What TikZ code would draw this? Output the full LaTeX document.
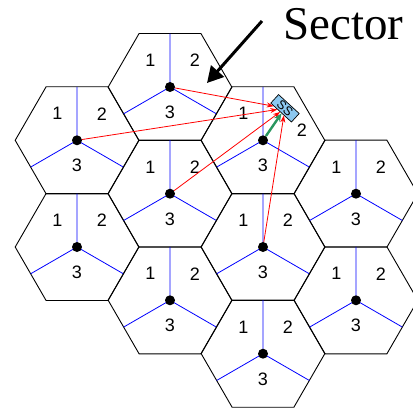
\documentclass[tikz,border=0pt]{standalone}
\usepackage{fontspec}
\setmainfont{Liberation Sans}
\newfontfamily\serifit{Liberation Serif}
\usetikzlibrary{arrows.meta}
\definecolor{ssblue}{RGB}{140,200,240}
\definecolor{sgreen}{RGB}{40,150,95}
\tikzset{
  hexline/.style={draw=black,line width=0.9pt},
  sectorline/.style={draw=blue,line width=0.8pt},
  bs/.style={circle,fill=black,inner sep=0pt,minimum size=10pt},
  num/.style={font=\fontsize{18}{18}\selectfont,inner sep=0pt},
  interf/.style={draw=red,line width=0.8pt,-{Stealth[length=7pt,width=5pt]}},
  serving/.style={draw=sgreen,line width=2.4pt,-{Stealth[length=8pt,width=7pt]}},
  ssbox/.style={draw=black,fill=ssblue,line width=0.7pt,rotate=-42.5,minimum width=28pt,minimum height=11.5pt,inner sep=0pt,font=\fontsize{12.5}{12.5}\selectfont},
  bigarrow/.style={draw=black,line width=3pt,-{Triangle[length=16pt,width=17pt]}}
}
\begin{document}
\begin{tikzpicture}[x=1pt,y=-1pt]
\useasboundingbox (0,0) rectangle (413,410);
\fill[white] (0,0) rectangle (413,410);
\begin{scope}
\clip (0,0) rectangle (413,410);
\def\R{61.8}
\foreach \n/\cx/\cy in {a/77/140.3,b/77/247,c/170/87,d/170/193.7,e/170/300.3,f/263/140.3,g/263/247,h/263/353.7,i/356/193.7,j/356/300.3}{
  \draw[hexline,shift={(\cx,\cy)}] (0:\R) -- (60:\R) -- (120:\R) -- (180:\R) -- (240:\R) -- (300:\R) -- cycle;
  \draw[sectorline,shift={(\cx,\cy)}] (0,0) -- (0,-53.5) (0,0) -- (-46.3,26.75) (0,0) -- (46.3,26.75);
  \node[bs] (\n) at (\cx,\cy) {};
  \node[num] (\n3) at ([shift={(0,25.5)}]\n) {3};
  \node[num] (\n1) at ([shift={(-19.5,-26.5)}]\n) {1};
}
\foreach \n in {a,b,c,d,e,g,h,i,j}{
  \node[num] (\n2) at ([shift={(25,-26.5)}]\n) {2};
}
\node[num] (f2) at ([shift={(39,-10.5)}]f) {2};
\end{scope}
\node[ssbox] (ss) at (285,108.3) {SS};
\draw[interf] (c) -- (ss);
\draw[interf] (a) -- (ss);
\draw[interf] (d) -- (ss);
\draw[interf] (g) -- (ss);
\draw[serving] (f) -- (ss);
\node[font=\serifit\fontsize{47}{47}\selectfont,inner sep=0pt] (sector) at (343.5,24) {Sector};
\coordinate (arrstart) at (262,21);
\coordinate (arrtip) at (207,83);
\draw[bigarrow] (arrstart) -- (arrtip);
\end{tikzpicture}
\end{document}
